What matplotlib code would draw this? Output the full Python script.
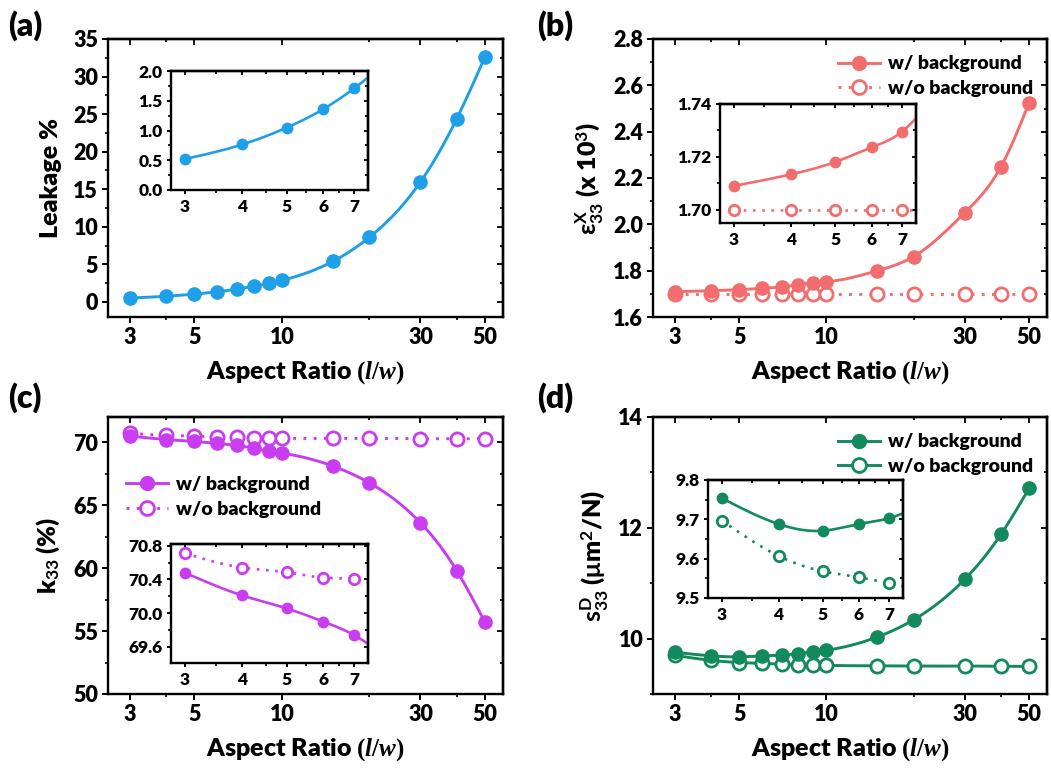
import numpy as np
import matplotlib
matplotlib.use("Agg")
import matplotlib.pyplot as plt
from matplotlib.ticker import FixedLocator, NullFormatter, FormatStrFormatter, MultipleLocator

plt.rcParams['font.family'] = ['Lato', 'DejaVu Sans']
plt.rcParams['font.weight'] = 'bold'
plt.rcParams['mathtext.fontset'] = 'custom'
plt.rcParams['mathtext.rm'] = 'Lato:bold'
plt.rcParams['mathtext.it'] = 'Liberation Serif:italic:bold'
plt.rcParams['mathtext.bf'] = 'Liberation Serif:bold'
plt.rcParams['axes.linewidth'] = 1.7

# data
ar = [3, 4, 5, 6, 7, 8, 9, 10, 15, 20, 30, 40, 50]

leak = [0.52, 0.765, 1.05, 1.36, 1.71, 2.08, 2.48, 2.88, 5.41, 8.6, 15.98, 24.4, 32.6]

eps_bg = [1.709, 1.7134, 1.7181, 1.7236, 1.7296, 1.740, 1.748, 1.752, 1.800, 1.861, 2.050, 2.248, 2.523]
eps_nobg = [1.70, 1.70, 1.70, 1.70, 1.70, 1.70, 1.70, 1.70, 1.70, 1.70, 1.70, 1.70, 1.70]

k_bg = [70.48, 70.21, 70.056, 69.90, 69.74, 69.52, 69.29, 69.13, 68.1, 66.77, 63.6, 59.79, 55.7]
k_nobg = [70.71, 70.54, 70.485, 70.42, 70.40, 70.33, 70.32, 70.31, 70.3, 70.3, 70.28, 70.27, 70.27]

s_bg = [9.754, 9.688, 9.671, 9.688, 9.703, 9.73, 9.76, 9.79, 10.03, 10.34, 11.07, 11.88, 12.71]
s_nobg = [9.697, 9.607, 9.568, 9.553, 9.537, 9.525, 9.52, 9.515, 9.51, 9.505, 9.505, 9.50, 9.50]

W = 1051.0
H = 769.0


def box(x0, y0, x1, y1):
    # pixel box -> figure fraction
    return [x0 / W, 1 - y1 / H, (x1 - x0) / W, (y1 - y0) / H]


def spline(x, y, n=400):
    t = np.log10(np.array(x, float))
    y = np.array(y, float)
    m = len(t)
    h = np.diff(t)
    A = np.zeros((m, m))
    r = np.zeros(m)
    A[0, 0] = 1
    A[-1, -1] = 1
    for i in range(1, m - 1):
        A[i, i - 1] = h[i - 1]
        A[i, i] = 2 * (h[i - 1] + h[i])
        A[i, i + 1] = h[i]
        r[i] = 6 * ((y[i + 1] - y[i]) / h[i] - (y[i] - y[i - 1]) / h[i - 1])
    M = np.linalg.solve(A, r)
    tt = np.linspace(t[0], t[-1], n)
    k = np.clip(np.searchsorted(t, tt) - 1, 0, m - 2)
    a = t[k + 1] - tt
    b = tt - t[k]
    hk = h[k]
    yy = (M[k] * a ** 3 + M[k + 1] * b ** 3) / (6 * hk) \
        + (y[k] / hk - M[k] * hk / 6) * a + (y[k + 1] / hk - M[k + 1] * hk / 6) * b
    return 10 ** tt, yy


def ticks(ax, xmaj, xmin, lab_size, ymaj, ymin, fmt, inset=False):
    ax.set_xscale('log')
    ax.xaxis.set_major_locator(FixedLocator(xmaj))
    ax.xaxis.set_minor_locator(FixedLocator(xmin))
    ax.xaxis.set_major_formatter(FormatStrFormatter('%d'))
    ax.xaxis.set_minor_formatter(NullFormatter())
    ax.yaxis.set_major_locator(MultipleLocator(ymaj))
    ax.yaxis.set_minor_locator(MultipleLocator(ymin))
    ax.yaxis.set_major_formatter(FormatStrFormatter(fmt))
    L = 3.2 if inset else 4
    ax.tick_params(which='major', direction='out', length=L, width=1.4, labelsize=lab_size, pad=3)
    ax.tick_params(which='minor', direction='out', length=L * 0.6, width=1.2)
    top = ax.secondary_xaxis('top')
    top.xaxis.set_major_locator(FixedLocator(xmaj))
    top.xaxis.set_minor_locator(FixedLocator(xmin))
    top.tick_params(which='both', direction='in', labeltop=False, width=1.3)
    top.tick_params(which='major', length=L)
    top.tick_params(which='minor', length=L * 0.6)
    right = ax.secondary_yaxis('right')
    right.yaxis.set_major_locator(MultipleLocator(ymaj))
    right.yaxis.set_minor_locator(MultipleLocator(ymin))
    right.tick_params(which='both', direction='in', labelright=False, width=1.3)
    right.tick_params(which='major', length=L)
    right.tick_params(which='minor', length=L * 0.6)
    for lab in ax.get_xticklabels() + ax.get_yticklabels():
        lab.set_fontweight('heavy')


def series(ax, y, color, filled=True, ls='-', ms=9.5, lw=2.1):
    xs, ys = spline(ar, y)
    ax.plot(xs, ys, ls, color=color, lw=lw, dashes=(1, 2.5) if ls == ':' else (None, None))
    mfc = color if filled else 'white'
    ax.plot(ar, y, 'o', color=color, ms=ms, mfc=mfc, mew=2.0 if not filled else 1)


def legend_handles(ax, color, ls2):
    ax.plot([], [], '-', color=color, lw=2.1, marker='o', ms=10, label='w/ background')
    ax.plot([], [], ls2, color=color, lw=2.1, marker='o', ms=10, mfc='white', mew=2.0,
            dashes=(1, 2.5) if ls2 == ':' else (None, None), label='w/o background')


main_xmaj = [3, 5, 10, 30, 50]
main_xmin = [4, 20, 40]
ins_xmaj = [3, 4, 5, 6, 7]
ins_xmin = [3.5, 4.5, 5.5, 6.5]
xlab = r'Aspect Ratio $\mathbf{(}\mathit{l}\mathbf{/}\mathit{w}\mathbf{)}$'

blue = '#1E9FE8'
red = '#F26D6D'
purple = '#C93DF0'
green = '#138A5C'

main_tick = 15.5
ins_tick = 12.5
lab_size = 18
leg_prop = {'size': 14, 'weight': 'heavy'}

fig = plt.figure(figsize=(10.51, 7.69), dpi=100)

# (a)
ax = fig.add_axes(box(108, 39, 503, 317))
series(ax, leak, blue)
ax.set_xlim(2.52, 57.7)
ax.set_ylim(-2, 35)
ticks(ax, main_xmaj, main_xmin, main_tick, 5, 2.5, '%d')
ax.set_xlabel(xlab, fontsize=lab_size, fontweight='heavy', labelpad=8)
ax.set_ylabel('Leakage %', fontsize=lab_size, fontweight='heavy', labelpad=8)
ins = fig.add_axes(box(171, 71, 368, 190))
series(ins, leak, blue, ms=7.5, lw=1.9)
ins.set_xlim(2.8, 7.5)
ins.set_ylim(0, 2.0)
ticks(ins, ins_xmaj, ins_xmin, ins_tick, 0.5, 0.25, '%.1f', inset=True)

# (b)
ax = fig.add_axes(box(653, 39, 1047, 317))
series(ax, eps_nobg, red, filled=False, ls=':')
series(ax, eps_bg, red)
legend_handles(ax, red, ':')
ax.set_xlim(2.52, 57.7)
ax.set_ylim(1.6, 2.8)
ticks(ax, main_xmaj, main_xmin, main_tick, 0.2, 0.1, '%.1f')
ax.set_xlabel(xlab, fontsize=lab_size, fontweight='heavy', labelpad=8)
ax.set_ylabel(r'$\mathrm{\varepsilon^{X}_{33}}$ (x 10$^{\mathrm{3}}$)', fontsize=lab_size,
              fontweight='heavy', labelpad=5)
ax.legend(loc='upper right', frameon=False, prop=leg_prop, handlelength=2.2,
          borderaxespad=0.3, handletextpad=0.4, labelspacing=0.4, bbox_to_anchor=(1.0, 0.99))
ins = fig.add_axes(box(720, 104, 916, 223))
series(ins, eps_nobg, red, filled=False, ls=':', ms=7.5, lw=1.9)
series(ins, eps_bg, red, ms=7.5, lw=1.9)
ins.set_xlim(2.8, 7.5)
ins.set_ylim(1.695, 1.74)
ticks(ins, ins_xmaj, ins_xmin, ins_tick, 0.02, 0.01, '%.2f', inset=True)

# (c)
ax = fig.add_axes(box(108, 417, 503, 694))
series(ax, k_nobg, purple, filled=False, ls=':')
series(ax, k_bg, purple)
legend_handles(ax, purple, ':')
ax.set_xlim(2.52, 57.7)
ax.set_ylim(50, 72)
ticks(ax, main_xmaj, main_xmin, main_tick, 5, 2.5, '%d')
ax.set_xlabel(xlab, fontsize=lab_size, fontweight='heavy', labelpad=8)
ax.set_ylabel(r'k$_{\mathrm{33}}$ (%)', fontsize=lab_size, fontweight='heavy', labelpad=8)
ax.legend(loc='upper left', frameon=False, prop=leg_prop, handlelength=2.2,
          handletextpad=0.4, labelspacing=0.4, bbox_to_anchor=(0.0, 0.85))
ins = fig.add_axes(box(171, 544, 368, 663))
series(ins, k_nobg, purple, filled=False, ls=':', ms=7.5, lw=1.9)
series(ins, k_bg, purple, ms=7.5, lw=1.9)
ins.set_xlim(2.8, 7.5)
ins.set_ylim(69.41, 70.82)
ticks(ins, ins_xmaj, ins_xmin, ins_tick, 0.4, 0.2, '%.1f', inset=True)

# (d)
ax = fig.add_axes(box(653, 417, 1047, 694))
series(ax, s_nobg, green, filled=False)
series(ax, s_bg, green)
legend_handles(ax, green, '-')
ax.set_xlim(2.52, 57.7)
ax.set_ylim(9, 14)
ticks(ax, main_xmaj, main_xmin, main_tick, 2, 1, '%d')
ax.set_xlabel(xlab, fontsize=lab_size, fontweight='heavy', labelpad=8)
ax.set_ylabel(r'$\mathrm{s^{D}_{33}}$ ($\mathrm{\mu}$m$^{\mathrm{2}}$/N)', fontsize=lab_size,
              fontweight='heavy', labelpad=5)
ax.legend(loc='upper right', frameon=False, prop=leg_prop, handlelength=2.2,
          borderaxespad=0.3, handletextpad=0.4, labelspacing=0.4, bbox_to_anchor=(1.0, 0.99))
ins = fig.add_axes(box(708, 480, 903, 598))
series(ins, s_nobg, green, filled=False, ls=':', ms=7.5, lw=1.9)
series(ins, s_bg, green, ms=7.5, lw=1.9)
ins.set_xlim(2.8, 7.5)
ins.set_ylim(9.5, 9.8)
ticks(ins, ins_xmaj, ins_xmin, ins_tick, 0.1, 0.05, '%.1f', inset=True)

for lab, x, y in [('(a)', 8, 26), ('(b)', 537, 26), ('(c)', 8, 398), ('(d)', 537, 398)]:
    fig.text(x / W, 1 - y / H, lab, fontsize=23, fontweight='heavy', va='center', ha='left')

fig.savefig('out.png', dpi=100)
